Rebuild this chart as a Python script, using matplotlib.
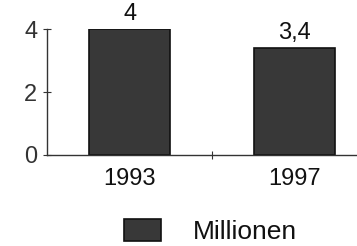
import matplotlib.pyplot as plt

years = ["1993", "1997"]
values = [4, 3.4]
value_labels = ["4", "3,4"]
yticks = [0, 2, 4]

plt.rcParams["font.family"] = ["Liberation Sans", "DejaVu Sans"]

fig = plt.figure(figsize=(3.57, 2.46), dpi=100)
ax = fig.add_axes([0.132, 0.370, 0.924, 0.512])

bars = ax.bar(range(len(years)), values, width=0.49, color="#383838",
              edgecolor="#111111", linewidth=1.2, label="Millionen")
for i, (v, lab) in enumerate(zip(values, value_labels)):
    ax.text(i, v + 0.12, lab, ha="center", va="bottom", fontsize=17, color="#111111")

ax.set_xlim(-0.5, 1.5)
ax.set_ylim(0, 4)
ax.set_yticks(yticks)
ax.set_yticklabels([str(t) for t in yticks], fontsize=17, color="#111111")
ax.set_xticks([0.5])
ax.set_xticklabels([""])
for i, y in enumerate(years):
    ax.text(i, -0.42, y, ha="center", va="top", fontsize=17, color="#111111")

for s in ["top", "right"]:
    ax.spines[s].set_visible(False)
for s in ["left", "bottom"]:
    ax.spines[s].set_color("#333333")
    ax.spines[s].set_linewidth(1.0)
ax.tick_params(axis="y", direction="inout", length=6, pad=4, colors="#333333")
ax.tick_params(axis="x", direction="inout", length=6, colors="#333333")

fig.legend(handles=[bars], labels=["Millionen"], loc="center left",
           bbox_to_anchor=(0.31, 0.06), frameon=False, fontsize=19,
           handlelength=1.4, handleheight=0.95, handletextpad=1.2,
           borderpad=0, labelcolor="#111111")

fig.savefig("out.png", dpi=100)
